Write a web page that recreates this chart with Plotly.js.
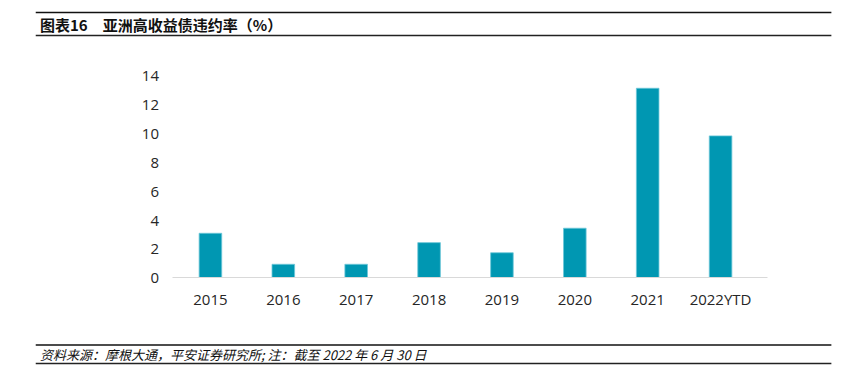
<!DOCTYPE html>
<html>
<head>
<meta charset="utf-8">
<script src="https://cdn.plot.ly/plotly-3.0.1.min.js"></script>
<style>html,body{margin:0;padding:0;background:#fff;}</style>
</head>
<body>
<div id="chart" style="width:846px;height:386px;"></div>
<script>
const categories = ["2015","2016","2017","2018","2019","2020","2021","2022YTD"];
const defaultRates = [3.1, 0.95, 0.95, 2.45, 1.75, 3.45, 13.15, 9.85];
const yTicks = [0, 2, 4, 6, 8, 10, 12, 14];
const titleText = "图表16　亚洲高收益债违约率（%）";
const sourceText = "资料来源：摩根大通，平安证券研究所; 注：截至 2022 年 6 月 30 日";

const W = 846, H = 386;
const L = 173.5, R = 757.5, T = 76, B = 278;
const px2x = p => (p - L) / (R - L);
const py2y = p => (B - p) / (B - T);

const trace = {
  type: "bar",
  x: categories,
  y: defaultRates,
  width: 0.31,
  marker: { color: "#0097B2", line: { color: "#6cc7d8", width: 0.8 } },
  hoverinfo: "x+y"
};

const layout = {
  width: W, height: H,
  margin: { l: L, r: W - R, t: T, b: H - B, pad: 0 },
  paper_bgcolor: "#fff", plot_bgcolor: "#fff",
  showlegend: false,
  font: { family: "'Open Sans', 'Noto Sans', sans-serif", color: "#262626", size: 15 },
  xaxis: {
    type: "category",
    showgrid: false, zeroline: false, showline: false,
    ticks: "", ticklabelstandoff: 11,
    tickfont: { size: 15, color: "#262626" }
  },
  yaxis: {
    range: [0, 14],
    tickvals: yTicks,
    showgrid: false, zeroline: false, showline: false,
    ticks: "", ticklabelstandoff: 14,
    tickfont: { size: 15, color: "#262626" }
  },
  shapes: [
    { type: "line", xref: "paper", yref: "y", x0: px2x(172), x1: px2x(768), y0: 0, y1: 0,
      line: { color: "#d9d9d9", width: 2 } },
    { type: "line", xref: "paper", yref: "paper", x0: px2x(35), x1: px2x(832), y0: py2y(12.5), y1: py2y(12.5),
      line: { color: "#111", width: 1.6 } },
    { type: "line", xref: "paper", yref: "paper", x0: px2x(35), x1: px2x(832), y0: py2y(35.5), y1: py2y(35.5),
      line: { color: "#222", width: 1.6 } },
    { type: "line", xref: "paper", yref: "paper", x0: px2x(35), x1: px2x(832), y0: py2y(345), y1: py2y(345),
      line: { color: "#111", width: 1.6 } },
    { type: "line", xref: "paper", yref: "paper", x0: px2x(35), x1: px2x(832), y0: py2y(363.5), y1: py2y(363.5),
      line: { color: "#222", width: 1.6 } }
  ],
  annotations: [
    { text: "<b>" + titleText + "</b>", xref: "paper", yref: "paper", x: px2x(37), y: py2y(24),
      xanchor: "left", yanchor: "middle", showarrow: false,
      font: { family: "'Noto Sans CJK SC', sans-serif", size: 15, color: "#111" } },
    { text: "<i>" + sourceText + "</i>", xref: "paper", yref: "paper", x: px2x(37), y: py2y(354),
      xanchor: "left", yanchor: "middle", showarrow: false,
      font: { family: "'Noto Sans CJK SC', sans-serif", size: 13, color: "#111" } }
  ]
};

Plotly.newPlot("chart", [trace], layout, { displayModeBar: false, staticPlot: true });
</script>
</body>
</html>
